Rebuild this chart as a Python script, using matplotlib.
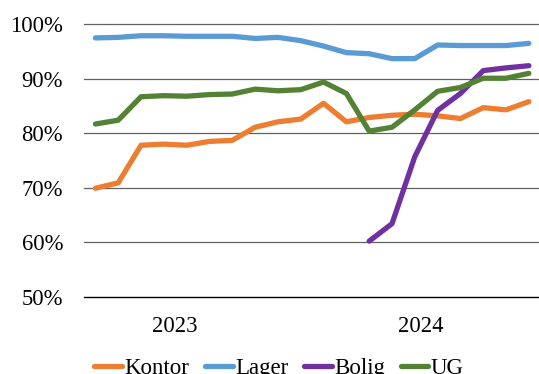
import matplotlib
matplotlib.use("Agg")
import matplotlib.pyplot as plt

plt.rcParams['font.family'] = ['Liberation Serif', 'DejaVu Serif']

# Occupancy rates (%) per period
kontor = [69.9, 70.9, 77.8, 78.0, 77.8, 78.5, 78.7, 81.1, 82.1, 82.6,
          85.5, 82.1, 82.9, 83.3, 83.5, 83.2, 82.7, 84.7, 84.3, 85.8]
lager = [97.5, 97.6, 97.9, 97.9, 97.8, 97.8, 97.8, 97.4, 97.6, 97.0,
         96.0, 94.8, 94.6, 93.7, 93.7, 96.2, 96.1, 96.1, 96.1, 96.5]
bolig = [None] * 12 + [60.2, 63.4, 75.7, 84.2, 87.3, 91.5, 92.0, 92.4]
ug = [81.7, 82.4, 86.7, 86.9, 86.8, 87.1, 87.2, 88.1, 87.8, 88.0,
      89.4, 87.3, 80.4, 81.1, 84.3, 87.7, 88.4, 90.1, 90.1, 91.0]

series_names = ['Kontor', 'Lager', 'Bolig', 'UG']
series_colors = ['#ED7D31', '#5B9BD5', '#7030A0', '#548235']
year_labels = ['2023', '2024']
y_ticks = [50, 60, 70, 80, 90, 100]

fig = plt.figure(figsize=(5.39, 3.74), dpi=100)
ax = fig.add_axes([84 / 539, 1 - 296.7 / 374, 454 / 539, (296.7 - 24.3) / 374])

x = list(range(len(kontor)))
for name, vals, col in zip(series_names, [kontor, lager, bolig, ug], series_colors):
    xs = [xi for xi, v in zip(x, vals) if v is not None]
    ys = [v for v in vals if v is not None]
    ax.plot(xs, ys, color=col, lw=3.8, solid_capstyle='round',
            solid_joinstyle='round', label=name)

ax.set_ylim(50, 100)
ax.set_xlim(-0.5, 19.4)
ax.set_yticks(y_ticks)
ax.set_yticklabels([f'{t}%' for t in y_ticks])
ax.set_xticks([3.47, 14.27])
ax.set_xticklabels(year_labels)
ax.tick_params(axis='both', length=0, labelsize=16.3, colors='#000000')
ax.tick_params(axis='y', pad=15)
ax.tick_params(axis='x', pad=14)

for t in y_ticks:
    ax.axhline(t, color='#606060', lw=0.9, zorder=0, clip_on=False)
ax.axhline(50, color='#000000', lw=0.9, zorder=0.5, clip_on=False)

for s in ax.spines.values():
    s.set_visible(False)

fig.legend(loc='center', bbox_to_anchor=(279 / 539, 0.016), ncol=4,
           frameon=False, fontsize=16.5, handlelength=1.2,
           handletextpad=0.1, columnspacing=0.7, borderpad=0,
           borderaxespad=0)

fig.savefig('out.png', dpi=100)
